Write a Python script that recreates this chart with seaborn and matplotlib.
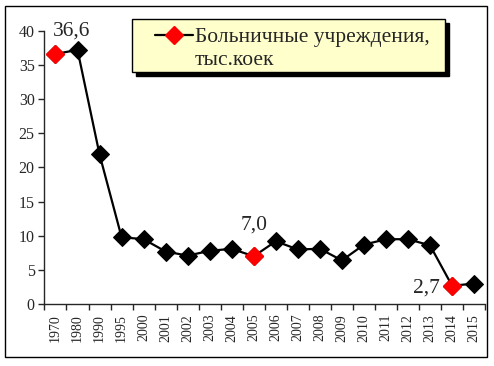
import numpy as np
import pandas as pd
import seaborn as sns
import matplotlib.pyplot as plt
from matplotlib.lines import Line2D
from matplotlib.patches import Rectangle

# данные: больничные учреждения, тыс. коек
years = ['1970', '1980', '1990', '1995', '2000', '2001', '2002', '2003', '2004', '2005',
         '2006', '2007', '2008', '2009', '2010', '2011', '2012', '2013', '2014', '2015']
beds = [36.6, 37.2, 21.9, 9.8, 9.5, 7.7, 7.1, 7.8, 8.1, 7.0,
        9.2, 8.0, 8.1, 6.4, 8.7, 9.5, 9.5, 8.6, 2.7, 3.0]
highlight = ['1970', '2005', '2014']
labels = {'1970': '36,6', '2005': '7,0', '2014': '2,7'}

df = pd.DataFrame({'year': years, 'beds': beds})
df['pos'] = range(len(df))

sns.set_style('ticks')
plt.rcParams['font.family'] = ['Liberation Serif', 'DejaVu Serif']

fig = plt.figure(figsize=(4.94, 3.66), dpi=100)
ax = fig.add_axes([0.090, 0.169, 0.892, 0.747])

sns.lineplot(data=df, x='pos', y='beds', color='black', lw=1.6,
             marker='D', markersize=9, markeredgecolor='black', ax=ax)
red = df[df['year'].isin(highlight)]
ax.plot(red['pos'], red['beds'], ls='none', marker='D', markersize=9,
        color='red', markeredgecolor='red', zorder=5)

# подписи значений (смещения в пунктах)
offs = {'1970': (11.5, 13, 'center'), '2005': (0, 19, 'center'), '2014': (-9, -5, 'right')}
for _, r in red.iterrows():
    dx, dy, ha = offs[r['year']]
    ax.annotate(labels[r['year']], (r['pos'], r['beds']), xytext=(dx, dy),
                textcoords='offset points', ha=ha, va='baseline', fontsize=15.5)

ax.set_xlim(-0.5, len(years) - 0.5)
ax.set_ylim(0, 40)
ax.set_yticks(range(0, 41, 5))
ax.set_xticks(df['pos'])
ax.set_xticklabels(years, rotation=90)
ax.set_xticks(np.arange(-0.5, len(years), 1), minor=True)
ax.tick_params(axis='x', which='major', length=0, pad=7, labelsize=10)
ax.tick_params(axis='x', which='minor', length=4, width=1, direction='out')
ax.tick_params(axis='y', length=4, width=1, pad=3, labelsize=11.5)
ax.set_xlabel('')
ax.set_ylabel('')
sns.despine(ax=ax)
for s in ['left', 'bottom']:
    ax.spines[s].set_linewidth(1)

# легенда: жёлтая рамка с тенью
fig.patches.append(Rectangle((0.275, 0.792), 0.634, 0.145, transform=fig.transFigure,
                             facecolor='black', edgecolor='black', lw=1, zorder=1))
fig.patches.append(Rectangle((0.267, 0.803), 0.634, 0.145, transform=fig.transFigure,
                             facecolor='#FFFFCC', edgecolor='black', lw=1, zorder=2))
h = Line2D([], [], color='black', lw=1.6, marker='D', markersize=9,
           markerfacecolor='red', markeredgecolor='red')
blank = Line2D([], [], ls='none')
leg = fig.legend([h, blank], ['Больничные учреждения,', 'тыс.коек'], loc='upper left',
                 bbox_to_anchor=(0.314, 0.926), fontsize=15.5, frameon=False,
                 handlelength=1.75, handletextpad=0.1, borderpad=0, borderaxespad=0,
                 labelspacing=0.15)
leg.set_zorder(3)

# рамка вокруг диаграммы
fig.patches.append(Rectangle((0.010, 0.0246), 0.976, 0.959, transform=fig.transFigure,
                             fill=False, edgecolor='black', lw=1))

fig.savefig('out.png', dpi=100)
